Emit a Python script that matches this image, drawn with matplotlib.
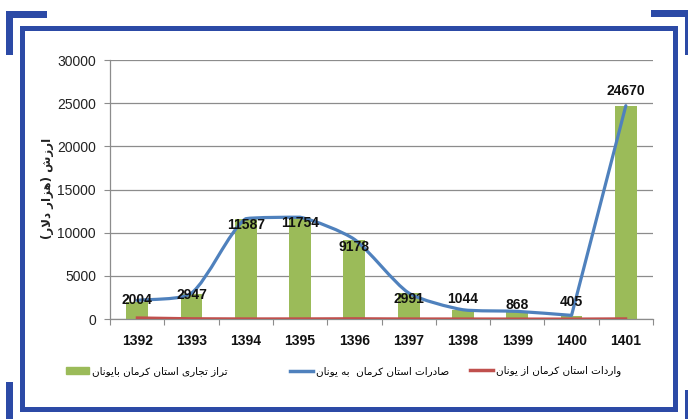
import numpy as np
import matplotlib
matplotlib.use("Agg")
from matplotlib import pyplot as plt
from matplotlib.patches import Rectangle, PathPatch
from matplotlib.path import Path
from matplotlib.lines import Line2D

# --- data (thousand USD) ---
years = ['1392', '1393', '1394', '1395', '1396', '1397', '1398', '1399', '1400', '1401']
balance = [2004, 2947, 11587, 11754, 9178, 2991, 1044, 868, 405, 24670]
exports = [2150, 3000, 11620, 11790, 9230, 3020, 1070, 885, 420, 24710]
imports = [146, 53, 33, 36, 52, 29, 26, 17, 15, 40]

lbl_balance = 'تراز تجاری استان کرمان بایونان'
lbl_exports = 'صادرات استان کرمان  به یونان'
lbl_imports = 'واردات استان کرمان از یونان'
ylabel = 'ارزش (هزار دلار)'

GREEN = '#9bbb59'
BLUE = '#4f81bd'
RED = '#c0504d'
GRID = '#8c8c8c'
FRAME = '#2c4aa6'

# presentation forms: (isolated, final[, initial, medial])
FORMS = {
    'ا': ('\uFE8D', '\uFE8E'),
    'د': ('\uFEA9', '\uFEAA'),
    'ر': ('\uFEAD', '\uFEAE'),
    'ز': ('\uFEAF', '\uFEB0'),
    'و': ('\uFEED', '\uFEEE'),
    'لا': ('\uFEFB', '\uFEFC'),
    'ب': ('\uFE8F', '\uFE90', '\uFE91', '\uFE92'),
    'ت': ('\uFE95', '\uFE96', '\uFE97', '\uFE98'),
    'ج': ('\uFE9D', '\uFE9E', '\uFE9F', '\uFEA0'),
    'س': ('\uFEB1', '\uFEB2', '\uFEB3', '\uFEB4'),
    'ش': ('\uFEB5', '\uFEB6', '\uFEB7', '\uFEB8'),
    'ص': ('\uFEB9', '\uFEBA', '\uFEBB', '\uFEBC'),
    'ل': ('\uFEDD', '\uFEDE', '\uFEDF', '\uFEE0'),
    'م': ('\uFEE1', '\uFEE2', '\uFEE3', '\uFEE4'),
    'ن': ('\uFEE5', '\uFEE6', '\uFEE7', '\uFEE8'),
    'ه': ('\uFEE9', '\uFEEA', '\uFEEB', '\uFEEC'),
    'ک': ('\uFB8E', '\uFB8F', '\uFB90', '\uFB91'),
    'ی': ('\uFBFC', '\uFBFD', '\uFBFE', '\uFBFF'),
}
MIRROR = {'(': ')', ')': '('}


def shape_fa(text):
    # join letters and put them in visual (left-to-right) order
    units = []
    i = 0
    while i < len(text):
        if text[i] == 'ل' and i + 1 < len(text) and text[i + 1] == 'ا':
            units.append('لا')
            i += 2
        else:
            units.append(text[i])
            i += 1
    out = []
    for k, u in enumerate(units):
        f = FORMS.get(u)
        if f is None:
            out.append(MIRROR.get(u, u))
            continue
        prev = units[k - 1] if k > 0 else None
        nxt = units[k + 1] if k + 1 < len(units) else None
        jp = prev in FORMS and len(FORMS[prev]) == 4
        jn = len(f) == 4 and nxt in FORMS
        if jp and jn:
            out.append(f[3])
        elif jp:
            out.append(f[1])
        elif jn:
            out.append(f[2])
        else:
            out.append(f[0])
    return ''.join(reversed(out))


def unit(v):
    return v / np.hypot(*v)


def smooth_path(xs, ys, sx, sy, k=0.22, sharp=110):
    # bezier through the points, tangents computed in screen proportions;
    # points with a sharp turn keep a corner
    P = np.column_stack([np.asarray(xs, float) * sx, np.asarray(ys, float) * sy])
    n = len(P)
    Tin = np.zeros_like(P)
    Tout = np.zeros_like(P)
    for i in range(n):
        a = P[max(i - 1, 0)]
        b = P[min(i + 1, n - 1)]
        t = unit(b - a)
        Tin[i] = Tout[i] = t
        if 0 < i < n - 1:
            u1 = unit(a - P[i])
            u2 = unit(b - P[i])
            ang = np.degrees(np.arccos(np.clip(np.dot(u1, u2), -1, 1)))
            if ang < sharp:
                Tin[i] = -u1
                Tout[i] = u2
    verts = [P[0]]
    codes = [Path.MOVETO]
    for i in range(n - 1):
        L = np.hypot(*(P[i + 1] - P[i]))
        c1 = P[i] + Tout[i] * L * k
        c2 = P[i + 1] - Tin[i + 1] * L * k
        lo, hi = sorted([P[i][1], P[i + 1][1]])
        c1[1] = np.clip(c1[1], lo, hi)
        c2[1] = np.clip(c2[1], lo, hi)
        verts += [c1, c2, P[i + 1]]
        codes += [Path.CURVE4] * 3
    V = np.array(verts)
    V[:, 0] /= sx
    V[:, 1] /= sy
    return Path(V, codes)


W, H = 688, 419
fig = plt.figure(figsize=(W / 100, H / 100), dpi=100)
fig.patch.set_facecolor('white')

NUM = 'Liberation Sans'

ax = fig.add_axes([110 / W, 1 - 319 / H, 543 / W, 259 / H])
x = np.arange(len(years))

ax.bar(x, balance, width=0.40, color=GREEN, zorder=2)

ymax = 30000
ppx = 543 / len(years)
ppy = 259 / ymax
ax.add_patch(PathPatch(smooth_path(x, exports, ppx, ppy), fill=False,
                       edgecolor=BLUE, lw=2.3, zorder=3, capstyle='round',
                       joinstyle='round'))
ax.plot(x, imports, color=RED, lw=2.0, zorder=3)

# value labels (offsets in points)
offs = [1.5, -1, -4.5, -4, -5, -4.5, 8, 5, 10, 10.5]
for i, v in enumerate(balance):
    ax.annotate(f'{v}', (x[i], v), xytext=(0, offs[i]), textcoords='offset points',
                ha='center', va='center', fontsize=10, fontweight='bold',
                family=NUM, color='#111111', zorder=5)

ax.set_xlim(-0.5, len(years) - 0.5)
ax.set_ylim(0, ymax)
ax.set_yticks(np.arange(0, 30001, 5000))
ax.set_xticks(x)
ax.set_xticklabels(years, fontsize=10, fontweight='bold', family=NUM)
for t in ax.get_yticklabels():
    t.set_fontsize(10)
    t.set_family(NUM)
ax.set_xticks(np.arange(-0.5, len(years), 1), minor=True)
ax.tick_params(axis='x', which='major', length=0, pad=11, colors='#111111')
ax.tick_params(axis='x', which='minor', length=4, color=GRID, width=0.8)
ax.tick_params(axis='y', length=4, color=GRID, width=0.8, pad=6, labelcolor='#222222')
ax.yaxis.grid(True, color=GRID, lw=0.9)
ax.set_axisbelow(True)
for s in ['top', 'right']:
    ax.spines[s].set_visible(False)
for s in ['left', 'bottom']:
    ax.spines[s].set_color(GRID)
    ax.spines[s].set_linewidth(0.9)

fig.text(47 / W, 1 - 188 / H, shape_fa(ylabel), rotation=90, ha='center', va='center',
         fontsize=8.5, fontweight='bold', family='DejaVu Sans', color='#222222')

# legend entries, each placed on its own
entries = [
    (Rectangle((0, 0), 1, 1, color=GREEN), lbl_balance, 66),
    (Line2D([], [], color=BLUE, lw=2.5), lbl_exports, 290),
    (Line2D([], [], color=RED, lw=2.5), lbl_imports, 470),
]
for h, lab, px in entries:
    fig.legend([h], [shape_fa(lab)], loc='center left',
               bbox_to_anchor=(px / W, 1 - 371 / H), frameon=False,
               borderpad=0, borderaxespad=0, handlelength=2.2, handleheight=0.6,
               handletextpad=0.3, prop={'family': 'DejaVu Sans', 'size': 7.5})


def px_rect(x0, y0, x1, y1):
    fig.add_artist(Rectangle((x0 / W, 1 - y1 / H), (x1 - x0) / W, (y1 - y0) / H,
                             transform=fig.transFigure, facecolor=FRAME, lw=0))


# outer frame
px_rect(20, 26, 678, 31)
px_rect(20, 26, 25, 412)
px_rect(673, 26, 678, 412)
px_rect(20, 407, 678, 412)
# corner marks
px_rect(6, 11, 47, 18)
px_rect(6, 11, 13, 55)
px_rect(651, 10, 688, 17)
px_rect(685, 10, 688, 55)
px_rect(6, 382, 13, 419)
px_rect(685, 390, 688, 419)

fig.savefig('out.png', dpi=100)
